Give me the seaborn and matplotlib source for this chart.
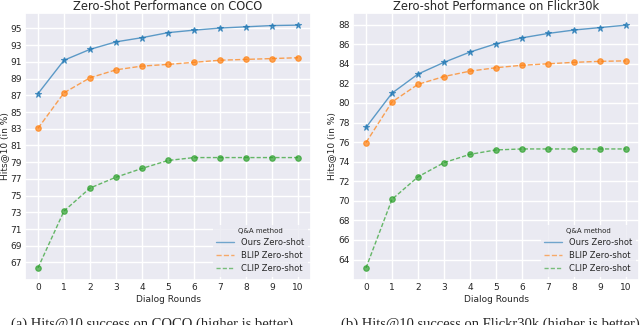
import matplotlib
matplotlib.use("Agg")
import matplotlib.pyplot as plt
from matplotlib.lines import Line2D
import seaborn as sns
import pandas as pd

# dialog rounds on x axis
rounds = list(range(11))

# COCO zero-shot hits@10
coco_ours = [87.2, 91.2, 92.5, 93.4, 93.9, 94.5, 94.8, 95.05, 95.2, 95.35, 95.4]
coco_blip = [83.05, 87.3, 89.1, 90.05, 90.5, 90.7, 90.95, 91.2, 91.3, 91.4, 91.5]
coco_clip = [66.35, 73.15, 75.9, 77.2, 78.25, 79.2, 79.55, 79.55, 79.55, 79.55, 79.55]

# Flickr30k zero-shot hits@10
flickr_ours = [77.5, 81.0, 82.95, 84.15, 85.2, 86.05, 86.65, 87.1, 87.45, 87.7, 87.95]
flickr_blip = [75.95, 80.1, 81.9, 82.7, 83.25, 83.6, 83.85, 84.0, 84.15, 84.25, 84.3]
flickr_clip = [63.15, 70.15, 72.45, 73.9, 74.75, 75.2, 75.3, 75.3, 75.3, 75.3, 75.3]

labels = ["Ours Zero-shot", "BLIP Zero-shot", "CLIP Zero-shot"]
coco_ticks = list(range(67, 96, 2))
flickr_ticks = list(range(64, 89, 2))

sns.set_theme(style="darkgrid")
plt.rcParams["font.family"] = ["DejaVu Sans"]

fig = plt.figure(figsize=(6.4, 3.25), dpi=100)
ax1 = fig.add_axes([25 / 640, 45 / 325, 286 / 640, 267 / 325])
ax2 = fig.add_axes([353 / 640, 45 / 325, 286 / 640, 267 / 325])

pal = sns.color_palette("tab10")
styles = [("-", "*", pal[0]), ("--", "o", pal[1]), ((0, (3, 1.5)), "o", pal[2])]


def draw(ax, series, title, ticks, ylab_x):
    for vals, lab, (ls, mk, c) in zip(series, labels, styles):
        df = pd.DataFrame({"round": rounds, "hits": vals})
        sns.lineplot(data=df, x="round", y="hits", ax=ax, color=c, linestyle=ls,
                     linewidth=1.0, alpha=0.7, marker=mk, markersize=5 if mk == "*" else 4,
                     markerfacecolor=c if mk == "*" else (c[0], c[1], c[2], 0.4),
                     markeredgecolor=c, markeredgewidth=0.8)
    ax.set_title(title, fontsize=8.3, pad=2)
    ax.set_xlabel("Dialog Rounds", fontsize=6.5, labelpad=1.5)
    ax.set_ylabel("Hits@10 (in %)", fontsize=6.5)
    ax.yaxis.set_label_coords(ylab_x, 0.5)
    ax.set_xticks(rounds)
    ax.set_yticks(ticks)
    ax.tick_params(labelsize=6.5, length=0, pad=2.5)
    handles = [Line2D([], [], color=c, linestyle=ls, linewidth=1.0, alpha=0.6)
               for ls, mk, c in styles]
    leg = ax.legend(handles, labels, title="Q&A method", loc="lower right",
                    fontsize=6, title_fontsize=5, frameon=True, handlelength=2.2,
                    borderaxespad=0.4)
    leg.get_frame().set_edgecolor("none")


draw(ax1, [coco_ours, coco_blip, coco_clip], "Zero-Shot Performance on COCO",
     coco_ticks, (9 - 25) / 286)
draw(ax2, [flickr_ours, flickr_blip, flickr_clip], "Zero-shot Performance on Flickr30k",
     flickr_ticks, (336 - 353) / 286)

fig.text(152 / 640, 7 / 325, "(a) Hits@10 success on COCO (higher is better)",
         family="Liberation Serif", fontsize=10.5, ha="center", va="top")
fig.text(490 / 640, 7 / 325, "(b) Hits@10 success on Flickr30k (higher is better)",
         family="Liberation Serif", fontsize=10.5, ha="center", va="top")

fig.savefig("out.png", dpi=100)
